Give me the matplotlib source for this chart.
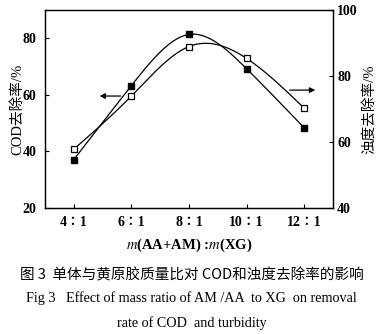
import numpy as np
import matplotlib.pyplot as plt

plt.rcParams['font.family'] = ['Liberation Serif', 'Noto Sans CJK SC']
plt.rcParams['mathtext.fontset'] = 'stix'

ratios = ['4∶1', '6∶1', '8∶1', '10∶1', '12∶1']
cod = [40.8, 59.6, 77.1, 72.9, 55.3]        # open squares, left axis
turbidity = [54.7, 77.1, 92.6, 82.2, 64.3]  # filled squares, right axis


def natural_spline(x, y, n=200):
    # plain natural cubic spline, just for drawing the smooth line
    x = np.asarray(x, float)
    y = np.asarray(y, float)
    k = len(x)
    h = np.diff(x)
    A = np.zeros((k, k))
    b = np.zeros(k)
    A[0, 0] = A[-1, -1] = 1
    for i in range(1, k - 1):
        A[i, i - 1] = h[i - 1]
        A[i, i] = 2 * (h[i - 1] + h[i])
        A[i, i + 1] = h[i]
        b[i] = 6 * ((y[i + 1] - y[i]) / h[i] - (y[i] - y[i - 1]) / h[i - 1])
    M = np.linalg.solve(A, b)
    xs = np.linspace(x[0], x[-1], n)
    idx = np.clip(np.searchsorted(x, xs) - 1, 0, k - 2)
    x0, x1 = x[idx], x[idx + 1]
    hh = x1 - x0
    t0, t1 = x1 - xs, xs - x0
    ys = (M[idx] * t0**3 + M[idx + 1] * t1**3) / (6 * hh) \
        + (y[idx] / hh - M[idx] * hh / 6) * t0 \
        + (y[idx + 1] / hh - M[idx + 1] * hh / 6) * t1
    return xs, ys


fig = plt.figure(figsize=(3.83, 3.34), dpi=100)
ax1 = fig.add_axes([0.1175, 0.377, 0.752, 0.593])
ax2 = ax1.twinx()

x = np.arange(len(ratios))

xs, ys = natural_spline(x, cod)
ax1.plot(xs, ys, color='black', lw=0.9)
ax1.plot(x, cod, 's', ms=4, mfc='white', mec='black', mew=0.9)

xs, ys = natural_spline(x, turbidity)
ax2.plot(xs, ys, color='black', lw=0.9)
ax2.plot(x, turbidity, 's', ms=4.5, mfc='black', mec='black')

ax1.set_xlim(-0.5, 4.5)
ax1.set_ylim(20, 90)
ax1.set_yticks([20, 40, 60, 80])
ax2.set_ylim(40, 100)
ax2.set_yticks([40, 60, 80, 100])
ax1.set_xticks(x)
ax1.set_xticklabels(ratios)

for ax in (ax1, ax2):
    ax.tick_params(direction='in', length=3, width=0.8, labelsize=10)
    for lab in ax.get_xticklabels() + ax.get_yticklabels():
        lab.set_fontweight('bold')
    for s in ax.spines.values():
        s.set_linewidth(0.9)
ax1.tick_params(axis='x', pad=6)
ax1.tick_params(axis='y', pad=6)
ax2.tick_params(axis='y', pad=3)

ax1.set_ylabel('COD去除率/%', fontsize=10.5, labelpad=-1)
ax2.set_ylabel('浊度去除率/%', fontsize=10.5, labelpad=3, rotation=90)
ax1.set_xlabel(r'$m$(AA+AM) :$m$(XG)', fontsize=10.5, labelpad=5,
               fontweight='bold')

ax1.annotate('', xy=(0.40, 59.6), xytext=(0.86, 59.6),
             arrowprops=dict(arrowstyle='-|>', color='black', lw=0.9,
                             mutation_scale=8))
ax1.annotate('', xy=(4.24, 61.7), xytext=(3.70, 61.7),
             arrowprops=dict(arrowstyle='-|>', color='black', lw=0.9,
                             mutation_scale=8))

fig.text(0.5, 0.177, '图 3  单体与黄原胶质量比对 COD和浊度去除率的影响',
         ha='center', va='center', fontsize=10.5,
         family=['Noto Sans CJK SC', 'Liberation Serif'])
fig.text(0.5, 0.108, 'Fig 3   Effect of mass ratio of AM /AA  to XG  on removal',
         ha='center', va='center', fontsize=10.2)
fig.text(0.5, 0.033, 'rate of COD  and turbidity',
         ha='center', va='center', fontsize=10.2)

fig.savefig('out.png', dpi=100)
